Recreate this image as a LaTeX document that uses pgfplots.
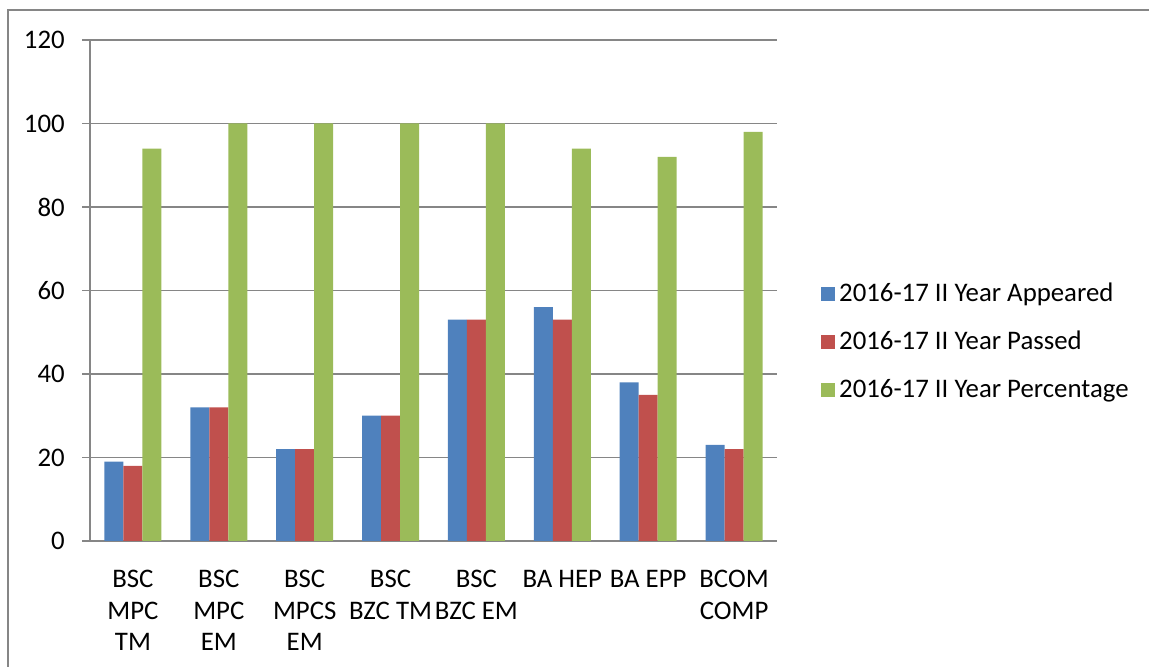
\documentclass[border=0pt]{standalone}
\usepackage{fontspec}
\setmainfont{Carlito}
\usepackage{pgfplots}
\pgfplotsset{compat=1.18}
\definecolor{cblue}{HTML}{4F81BD}
\definecolor{cred}{HTML}{C0504D}
\definecolor{cgreen}{HTML}{9BBB59}
\definecolor{cgrid}{HTML}{868686}
\begin{document}
\fontsize{13.4}{15.75}\selectfont
\begin{tikzpicture}
\useasboundingbox (-45pt,-63pt) rectangle (529.5pt,270.5pt);
\draw[cgrid,line width=1pt] (-41pt,-70pt) -- (-41pt,265.5pt) -- (540pt,265.5pt);
\begin{axis}[
  at={(0pt,0pt)}, anchor=south west,
  scale only axis,
  width=343.5pt, height=250.5pt,
  ybar=0pt, bar width=9.5pt,
  xmin=-0.5, xmax=7.5,
  ymin=0, ymax=120,
  ytick={0,20,...,120},
  xtick={0,...,7},
  xticklabels={{BSC\\MPC\\TM},{BSC\\MPC\\EM},{BSC\\MPCS\\EM},{BSC\\BZC TM},{BSC\\BZC EM},{BA HEP},{BA EPP},{BCOM\\COMP}},
  minor xtick={-0.5,0.5,...,7.5},
  axis x line*=bottom, axis y line*=left,
  axis line style={cgrid,line width=0.75pt,-},
  ymajorgrids, grid style={cgrid,line width=0.75pt},
  tick align=outside,
  major tick length=4pt, minor tick length=4pt,
  xtick style={draw=none},
  minor x tick style={cgrid,line width=0.75pt},
  ytick style={cgrid,line width=0.75pt},
  xticklabel style={align=center,font=\fontsize{13.4}{15.75}\selectfont,yshift=-6pt},
  yticklabel style={font=\fontsize{13.4}{15.75}\selectfont,xshift=-4pt},
  /pgf/number format/assume math mode=true,
  legend style={draw=none,at={(1.055,0.397)},anchor=west,
    font=\fontsize{13.4}{15.75}\selectfont,row sep=8.8pt,
    /tikz/every even column/.append style={column sep=3.5pt}},
  legend cell align=left,
  legend image code/.code={\fill[#1,draw=none] (0pt,-3.5pt) rectangle (7pt,3.5pt);},
]
\addplot[fill=cblue,draw=none] coordinates {(0,19) (1,32) (2,22) (3,30) (4,53) (5,56) (6,38) (7,23)};
\addplot[fill=cred,draw=none] coordinates {(0,18) (1,32) (2,22) (3,30) (4,53) (5,53) (6,35) (7,22)};
\addplot[fill=cgreen,draw=none] coordinates {(0,94) (1,100) (2,100) (3,100) (4,100) (5,94) (6,92) (7,98)};
\legend{2016-17 II Year Appeared,2016-17 II Year Passed,2016-17 II Year Percentage}
\end{axis}
\end{tikzpicture}
\end{document}
